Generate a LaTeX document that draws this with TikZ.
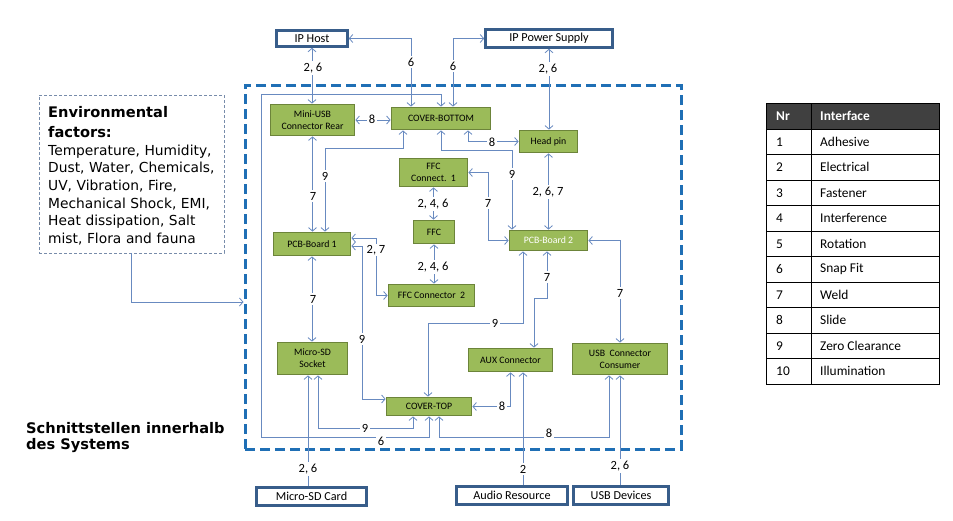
\documentclass[tikz,border=0pt]{standalone}
\usepackage{fontspec}
\setmainfont{Carlito}
\newfontfamily\envfont{DejaVu Sans}
\usetikzlibrary{arrows.meta}
\definecolor{conn}{RGB}{104,138,192}
\definecolor{gfill}{RGB}{155,187,89}
\definecolor{gdraw}{RGB}{108,132,58}
\definecolor{extdraw}{RGB}{56,93,138}
\definecolor{sysblue}{RGB}{31,111,181}
\definecolor{envdraw}{RGB}{120,140,170}
\definecolor{hdr}{RGB}{64,64,64}
\begin{document}
\begin{tikzpicture}[x=1pt,y=-1pt,
  comp/.style={draw=gdraw,fill=gfill,line width=1.8pt,inner sep=0pt,align=center,font=\fontsize{9.8}{12}\selectfont},
  ext/.style={draw=extdraw,fill=white,line width=2.6pt,inner sep=0pt,font=\fontsize{12.2}{14}\selectfont},
  wire/.style={draw=conn,line width=0.8pt,{Straight Barb[length=3.5pt,width=8pt]}-{Straight Barb[length=3.5pt,width=8pt]}},
  owire/.style={draw=conn,line width=0.8pt,-{Straight Barb[length=3.5pt,width=8pt]}},
  lbl/.style={fill=white,inner sep=1.5pt,font=\fontsize{12.5}{14}\selectfont},
  cell/.style={anchor=west,inner sep=0pt,font=\fontsize{13.4}{15}\selectfont},
]
\useasboundingbox (0,0) rectangle (953,520);

% system boundary
\node[draw=sysblue,line width=3pt,dash pattern=on 10pt off 5pt,minimum width=436pt,minimum height=364pt,inner sep=0pt] (sys) at (463,267) {};

% environmental box
\node[draw=envdraw,line width=0.8pt,dash pattern=on 3pt off 2pt,minimum width=185pt,minimum height=158pt,inner sep=0pt] (env) at (131.5,174) {};
\node[anchor=north west,inner sep=0pt,text width=175pt,align=left,font=\envfont\fontsize{13.8}{17.6}\selectfont] (envtxt) at (48,106)
 {{\fontsize{14.6}{17.6}\selectfont\bfseries Environmental}\\[2.4pt]{\fontsize{14.6}{17.6}\selectfont\bfseries factors:}\\[0.4pt]Temperature, Humidity,\\Dust, Water, Chemicals,\\UV, Vibration, Fire,\\Mechanical Shock, EMI,\\Heat dissipation, Salt\\mist, Flora and fauna};
\node[anchor=north west,inner sep=0pt,align=left,font=\envfont\bfseries\fontsize{14.6}{16}\selectfont] (schn) at (26,422) {Schnittstellen innerhalb\\des Systems};

% external boxes
\node[ext,minimum width=71pt,minimum height=16pt] (iphost) at (312,38.5) {IP Host};
\node[ext,minimum width=127pt,minimum height=18pt] (ipps) at (549,38.5) {IP Power Supply};
\node[ext,minimum width=110pt,minimum height=18pt] (msdcard) at (311.5,496.5) {Micro-SD Card};
\node[ext,minimum width=111pt,minimum height=18pt] (audio) at (512,495.5) {Audio Resource};
\node[ext,minimum width=95pt,minimum height=18pt] (usbdev) at (621,495.5) {USB Devices};

% components
\node[comp,minimum width=84pt,minimum height=31pt] (minius) at (312.5,120) {Mini-USB\\Connector Rear};
\node[comp,minimum width=99pt,minimum height=22pt] (coverb) at (441,118.5) {COVER-BOTTOM};
\node[comp,minimum width=58pt,minimum height=22pt] (headpin) at (548.5,141.5) {Head pin};
\node[comp,minimum width=68pt,minimum height=28pt] (ffc1) at (433.5,172.5) {FFC\\Connect.\ \ 1};
\node[comp,minimum width=41pt,minimum height=23pt] (ffc) at (434,232) {FFC};
\node[comp,minimum width=86pt,minimum height=22pt] (ffc2) at (431.5,295.5) {FFC Connector\ \ 2};
\node[comp,minimum width=77pt,minimum height=23pt] (pcb1) at (312,244) {PCB-Board 1};
\node[comp,minimum width=78pt,minimum height=20pt,text=white] (pcb2) at (548.5,240.5) {PCB-Board 2};
\node[comp,minimum width=70pt,minimum height=32pt] (microsd) at (312.5,358.5) {Micro-SD\\Socket};
\node[comp,minimum width=84pt,minimum height=23pt] (aux) at (510.5,360) {AUX Connector};
\node[comp,minimum width=95pt,minimum height=31pt] (usbc) at (620,359) {USB\ \ Connector\\Consumer};
\node[comp,minimum width=85pt,minimum height=18pt] (covert) at (429,406.5) {COVER-TOP};

% connectors
\draw[wire] (iphost.south) -- (iphost.south |- minius.north);
\draw[wire] (iphost.east) -| ([xshift=-30pt]coverb.north);
\draw[wire] ([xshift=12pt]coverb.north) |- (ipps.west);
\draw[wire] (ipps.south) -- (ipps.south |- headpin.north);
\draw[wire] (coverb.north) -- (441,94) -| (261,437) -| (covert.south);
\draw[wire] (minius.east) -- (minius.east -| coverb.west);
\draw[wire] ([xshift=27pt]coverb.south) |- (headpin.west);
\draw[wire] ([xshift=-38pt]coverb.south) |- (325,148) -- ([xshift=13pt]pcb1.north);
\draw[wire] (minius.south) -- (minius.south |- pcb1.north);
\draw[wire] (coverb.south) |- (512,150) -- (512,0 |- pcb2.north);
\draw[wire] (ffc1.south) -- (ffc1.south |- ffc.north);
\draw[wire] (ffc.south) -- (ffc.south |- ffc2.north);
\draw[wire] (headpin.south) -- (headpin.south |- pcb2.north);
\draw[wire] (ffc1.east) -| (488,0 |- pcb2.west) -- (pcb2.west);
\draw[wire] ([yshift=6pt]pcb1.east) -| (376,0 |- ffc2.west) -- (ffc2.west);
\draw[wire] ([yshift=-2pt]pcb1.east) -| (362,399) -- (362,399 -| covert.west);
\draw[wire] (pcb1.south) -- (pcb1.south |- microsd.north);
\draw[wire] ([xshift=-25.5pt]pcb2.south) |- (428,323) -- (428,0 |- covert.north);
\draw[wire] ([xshift=-1.5pt]pcb2.south) |- (534,298) -- (534,0 |- aux.north);
\draw[wire] (pcb2.east) -| (usbc.north);
\draw[wire] (aux.south) |- (covert.east);
\draw[wire] ([xshift=5.5pt]microsd.south) |- (413,428) -- (413,0 |- covert.south);
\draw[wire] ([xshift=10pt]covert.south) |- (609,437) -- (609,0 |- usbc.south);
\draw[owire] ([xshift=-3.5pt]msdcard.north) -- ([xshift=-4.5pt]microsd.south);
\draw[owire] ([xshift=11pt]audio.north) -- ([xshift=12.5pt]aux.south);
\draw[owire] ([xshift=-1pt]usbdev.north) -- (usbc.south);
\draw[owire] (env.south) |- ([yshift=-35pt]sys.west);

% connector labels
\node[lbl] (l1) at (313,68) {2, 6};
\node[lbl] (l2) at (411,62) {6};
\node[lbl] (l3) at (453,66) {6};
\node[lbl] (l4) at (548,69) {2, 6};
\node[lbl] (l5) at (372,119) {8};
\node[lbl] (l6) at (492,142) {8};
\node[lbl] (l7) at (325,176) {9};
\node[lbl] (l8) at (313,196) {7};
\node[lbl] (l9) at (512,174) {9};
\node[lbl] (l10) at (433,204) {2, 4, 6};
\node[lbl] (l11) at (433,267) {2, 4, 6};
\node[lbl] (l12) at (548,192) {2, 6, 7};
\node[lbl] (l13) at (488,203) {7};
\node[lbl] (l14) at (376,250) {2, 7};
\node[lbl] (l15) at (362,339) {9};
\node[lbl] (l16) at (313,299) {7};
\node[lbl] (l17) at (495,323) {9};
\node[lbl] (l18) at (547,277) {7};
\node[lbl] (l19) at (620,293) {7};
\node[lbl] (l20) at (502,406) {8};
\node[lbl] (l21) at (365,428) {9};
\node[lbl] (l22) at (549,433) {8};
\node[lbl] (l23) at (381,441) {6};
\node[lbl] (l24) at (308,469) {2, 6};
\node[lbl] (l25) at (523,469) {2};
\node[lbl] (l26) at (620,466) {2, 6};

% table
\fill[hdr] (766,103) rectangle (939,129);
\foreach \yy in {129,154.5,180,205.5,231,256.5,282,307.5,333,358.5}
  \draw[line width=0.9pt] (766,\yy) -- (939,\yy);
\draw[line width=0.9pt] (811,103) -- (811,384);
\draw[line width=1pt] (766,103) rectangle (939,384);
\node[cell,text=white,font=\fontsize{13.4}{15}\selectfont\bfseries] (hnr) at (776,116) {Nr};
\node[cell,text=white,font=\fontsize{13.4}{15}\selectfont\bfseries] (hif) at (820,116) {Interface};
\foreach \n/\t [count=\i from 0] in {1/Adhesive,2/Electrical,3/Fastener,4/Interference,5/Rotation,6/Snap Fit,7/Weld,8/Slide,9/Zero Clearance,10/Illumination}{
  \node[cell] (nr\i) at (776,{141.75+25.5*\i}) {\n};
  \node[cell] (if\i) at (820,{141.75+25.5*\i}) {\t};
}
\end{tikzpicture}
\end{document}
